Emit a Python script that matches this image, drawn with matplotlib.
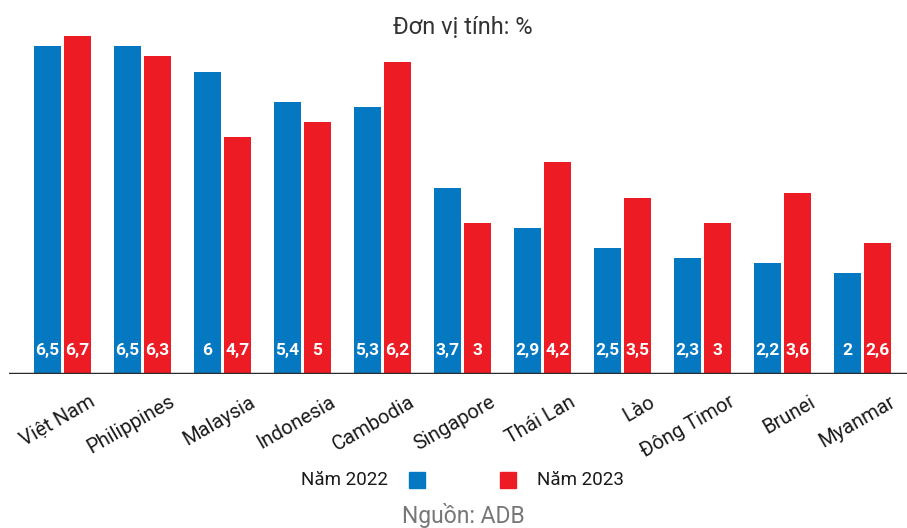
import matplotlib
matplotlib.use("Agg")
import matplotlib.pyplot as plt
import numpy as np

countries = ["Việt Nam", "Philippines", "Malaysia", "Indonesia", "Cambodia",
             "Singapore", "Thái Lan", "Lào", "Đông Timor", "Brunei", "Myanmar"]
y2022 = [6.5, 6.5, 6.0, 5.4, 5.3, 3.7, 2.9, 2.5, 2.3, 2.2, 2.0]
y2023 = [6.7, 6.3, 4.7, 5.0, 6.2, 3.0, 4.2, 3.5, 3.0, 3.6, 2.6]
labels2022 = ["6,5", "6,5", "6", "5,4", "5,3", "3,7", "2,9", "2,5", "2,3", "2,2", "2"]
labels2023 = ["6,7", "6,3", "4,7", "5", "6,2", "3", "4,2", "3,5", "3", "3,6", "2,6"]
legend_labels = ["Năm 2022", "Năm 2023"]
subtitle = "Đơn vị tính: %"
source = "Nguồn: ADB"

BLUE = "#0578c2"
RED = "#ed1c24"

plt.rcParams['font.family'] = ['Roboto', 'DejaVu Sans']

W, H = 907, 528
fig = plt.figure(figsize=(W / 100, H / 100), dpi=100)
ax = fig.add_axes([9 / W, (H - 374) / H, 898 / W, 374 / H])

x = np.arange(len(countries))
bw = 27 / 80
off = 15 / 80
ax.bar(x - off, y2022, width=bw, color=BLUE, zorder=2)
ax.bar(x + off, y2023, width=bw, color=RED, zorder=2)

for i in range(len(countries)):
    ax.text(x[i] - off, 0.47, labels2022[i], ha='center', va='center',
            color='white', fontsize=12.5, fontweight='bold', zorder=3)
    ax.text(x[i] + off, 0.47, labels2023[i], ha='center', va='center',
            color='white', fontsize=12.5, fontweight='bold', zorder=3)
    ax.text(x[i] + 0.33, -0.36, countries[i], ha='right', va='top',
            rotation=30, rotation_mode='anchor', fontsize=14.5, color='#1a1a1a')

ax.set_xlim(-53.5 / 80, (907 - 9 - 53.5) / 80)
ax.set_ylim(0, 374 / 50.4)
ax.axhline(0, color='#2b2b2b', lw=2.5, zorder=4)
for s in ax.spines.values():
    s.set_visible(False)
ax.set_xticks([])
ax.set_yticks([])
ax.patch.set_alpha(0)

fig.text(463 / W, 1 - 27 / H, subtitle, ha='center', va='center', fontsize=17, color='#333333')

# legend
fig.text(388 / W, 1 - 480 / H, legend_labels[0], ha='right', va='center', fontsize=13.5, color='#1a1a1a')
fig.text(537 / W, 1 - 480 / H, legend_labels[1], ha='left', va='center', fontsize=13.5, color='#1a1a1a')
fig.patches.append(plt.Rectangle((409 / W, 1 - 488 / H), 16 / W, 16 / H, color=BLUE,
                                 transform=fig.transFigure, figure=fig))
fig.patches.append(plt.Rectangle((500 / W, 1 - 488 / H), 16 / W, 16 / H, color=RED,
                                 transform=fig.transFigure, figure=fig))

fig.text(463 / W, 1 - 516 / H, source, ha='center', va='center', fontsize=16.5, color='#777777')

fig.savefig("out.png", dpi=100)
